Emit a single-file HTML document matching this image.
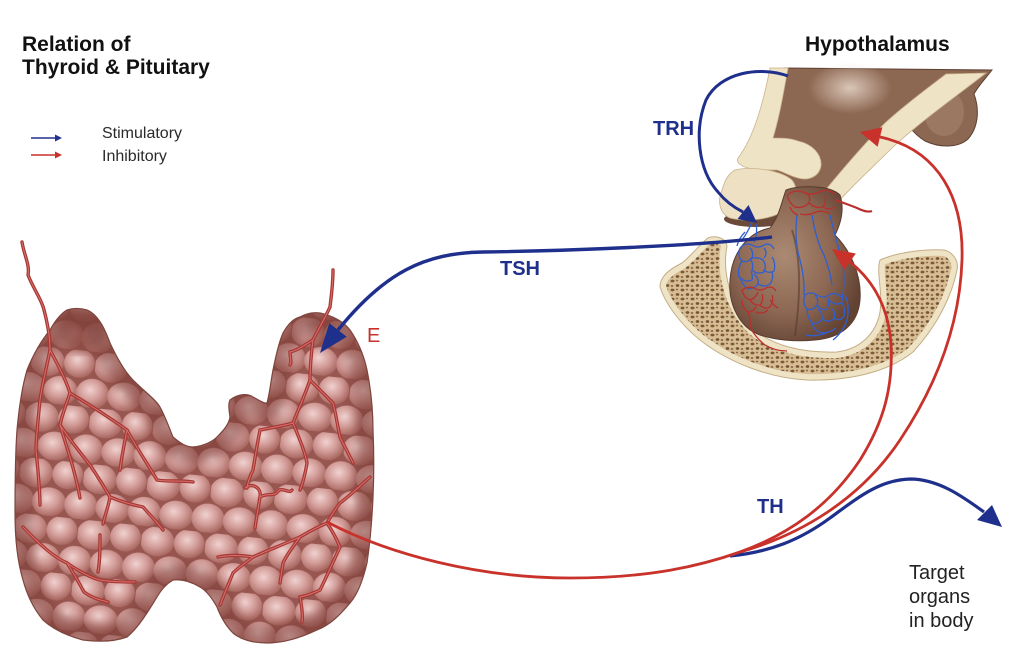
<!DOCTYPE html>
<html><head><meta charset="utf-8">
<style>
html,body{margin:0;padding:0;background:#fff;}
svg{display:block;}
text{font-family:"Liberation Sans",Arial,sans-serif;}
</style></head><body>
<svg width="1024" height="666" viewBox="0 0 1024 666" xmlns="http://www.w3.org/2000/svg">
<defs>
 <radialGradient id="lob" cx="0.42" cy="0.38" r="0.66">
  <stop offset="0" stop-color="#f0d2d0"/>
  <stop offset="0.5" stop-color="#d39d99"/>
  <stop offset="1" stop-color="#a5625b"/>
 </radialGradient>
 <pattern id="lobules" patternUnits="userSpaceOnUse" width="64" height="56" x="5" y="4" patternTransform="rotate(6)">
  <rect width="64" height="56" fill="#985650"/>
  <ellipse cx="16" cy="14" rx="17" ry="15" fill="url(#lob)"/>
  <ellipse cx="48" cy="13" rx="15.5" ry="14.5" fill="url(#lob)"/>
  <ellipse cx="0" cy="42" rx="16.5" ry="15" fill="url(#lob)"/>
  <ellipse cx="32" cy="42" rx="17" ry="14.5" fill="url(#lob)"/>
  <ellipse cx="64" cy="42" rx="16.5" ry="15" fill="url(#lob)"/>
 </pattern>
 <pattern id="spongy" patternUnits="userSpaceOnUse" width="10" height="9">
  <rect width="10" height="9" fill="#d6bd94"/>
  <ellipse cx="2.5" cy="2" rx="2" ry="1.4" fill="#7e5b38"/>
  <ellipse cx="7.5" cy="6.5" rx="1.8" ry="1.4" fill="#745435"/>
  <ellipse cx="7" cy="1.5" rx="1.2" ry="0.9" fill="#8d6a48"/>
  <ellipse cx="2" cy="7" rx="1.3" ry="1" fill="#8a6845"/>
 </pattern>
 <radialGradient id="gland" cx="0.42" cy="0.45" r="0.62">
  <stop offset="0" stop-color="#ab8a73"/>
  <stop offset="0.6" stop-color="#8c6753"/>
  <stop offset="1" stop-color="#624233"/>
 </radialGradient>
 <radialGradient id="hl" cx="0.5" cy="0.5" r="0.5">
  <stop offset="0" stop-color="#e8d6c8" stop-opacity="0.85"/>
  <stop offset="1" stop-color="#e8d6c8" stop-opacity="0"/>
 </radialGradient>
 <filter id="blur5"><feGaussianBlur stdDeviation="5"/></filter>
 <path id="thy" d="M87,310 C100,315 107,335 110,343 C118,360 125,372 133,380 C145,392 156,400 160,407 C166,418 170,430 173,437 C180,443 186,447 193,447 C203,446 212,442 217,437 C224,430 229,424 230,417 C229,410 228,404 230,400 C238,394 247,393 253,397 C259,400 264,404 267,403 C270,392 271,380 273,370 C276,355 279,342 283,333 C288,324 293,319 300,317 C307,313 313,312 320,313 C333,316 343,321 350,330 C359,343 364,356 367,370 C371,390 373,410 373,430 C374,452 374,475 373,497 C372,520 370,543 367,563 C363,580 358,594 350,603 C340,615 330,625 317,630 C300,638 284,643 267,643 C252,643 240,639 233,633 C225,625 220,615 217,607 C212,598 207,591 200,587 C190,581 181,579 173,580 C166,584 161,590 157,597 C148,612 138,628 127,637 C113,642 98,642 83,640 C68,636 54,630 43,620 C33,608 27,595 23,580 C17,560 15,537 15,513 C15,485 15,457 17,430 C19,408 22,387 27,370 C33,355 41,341 50,330 C55,321 60,314 67,310 C73,308 80,308 87,310 Z"/>
 <clipPath id="thyclip"><use href="#thy"/></clipPath>
 <path id="bone" d="M708,238 C716,235 726,238 727,246 C722,272 730,305 752,328 C772,346 803,353 837,352 C860,349 876,334 880,312 C883,292 876,272 880,260 C898,252 925,249 944,250 C953,252 959,261 957,270 C952,295 938,325 913,352 C888,372 850,381 807,380 C768,378 728,362 700,340 C680,324 665,303 660,287 C660,277 668,270 682,263 C692,255 700,244 708,238 Z"/>
 <clipPath id="boneclip"><use href="#bone"/></clipPath>
 <g id="vessels">
  <path d="M22,242 C24,255 30,265 28,275 C34,290 42,300 44,310 C48,325 50,340 50,350 C46,370 42,385 40,400 C38,420 36,440 36,450 C38,470 40,490 40,505"/>
  <path d="M50,350 C58,365 66,380 70,393 C66,405 62,415 60,425 C66,445 75,470 80,498"/>
  <path d="M70,393 C90,405 110,418 127,430 C135,445 148,465 157,480 C168,482 180,480 193,482"/>
  <path d="M127,430 C124,445 122,455 120,470"/>
  <path d="M60,425 C70,440 82,455 90,465 C100,480 106,490 110,497 C122,502 133,505 143,507 C150,515 157,522 163,530"/>
  <path d="M110,497 C108,508 105,515 103,524"/>
  <path d="M23,527 C40,545 55,558 67,563 C80,572 92,578 100,580 C112,582 125,582 135,582"/>
  <path d="M67,563 C75,575 80,585 84,592 C92,598 100,600 108,602"/>
  <path d="M100,535 C100,548 100,560 98,572"/>
  <path d="M333,270 C333,285 331,298 330,307 C324,320 318,330 313,340 C311,355 310,368 310,380 C305,395 298,410 293,423 C282,426 270,428 260,430 C257,445 255,458 253,470 C250,476 248,482 247,488"/>
  <path d="M313,340 C305,345 298,350 290,352 C290,358 292,362 290,365"/>
  <path d="M293,423 C300,440 305,452 307,463 C305,475 302,485 300,490"/>
  <path d="M310,380 C320,390 328,398 333,403 C336,415 338,428 340,437 C345,448 350,456 353,463"/>
  <path d="M370,477 C358,488 348,497 340,503 C333,512 330,518 327,523 C315,528 307,533 300,537 C282,545 266,551 253,557 C245,563 238,568 233,573 C228,585 224,595 220,605"/>
  <path d="M300,537 C292,548 286,556 283,563 C282,570 281,576 280,583"/>
  <path d="M327,523 C333,532 337,540 340,547 C333,562 326,578 320,590 C312,594 305,596 300,597 C302,608 303,616 302,622"/>
  <path d="M253,557 C240,555 228,555 218,557"/>
  <path d="M245,488 C252,482 262,488 260,497 C268,492 274,498 279,490 C285,488 289,494 292,490"/>
  <path d="M260,497 C258,510 256,520 255,528"/>
 </g>
</defs>

<!-- Titles -->
<text x="22" y="51" font-size="21" font-weight="bold" fill="#111">Relation of</text>
<text x="22" y="74" font-size="21" font-weight="bold" fill="#111">Thyroid &amp; Pituitary</text>

<!-- Legend -->
<line x1="31" y1="138" x2="56" y2="138" stroke="#22308f" stroke-width="1.6"/>
<polygon points="55,134.5 62,138 55,141.5" fill="#22308f"/>
<line x1="31" y1="155" x2="56" y2="155" stroke="#c8322b" stroke-width="1.6"/>
<polygon points="55,151.5 62,155 55,158.5" fill="#c8322b"/>
<text x="102" y="138" font-size="16" fill="#2a2a2a">Stimulatory</text>
<text x="102" y="161" font-size="16" fill="#2a2a2a">Inhibitory</text>

<!-- Thyroid -->
<g clip-path="url(#thyclip)">
 <rect x="0" y="300" width="400" height="360" fill="url(#lobules)"/>
 <ellipse cx="82" cy="330" rx="26" ry="22" fill="#8a4a43" opacity="0.75" filter="url(#blur5)"/>
 <ellipse cx="325" cy="330" rx="22" ry="16" fill="#8a4a43" opacity="0.45" filter="url(#blur5)"/>
 <use href="#thy" fill="none" stroke="#7a3a34" stroke-width="34" opacity="0.5" filter="url(#blur5)"/>
</g>
<use href="#thy" fill="none" stroke="#7d453d" stroke-width="1.2"/>
<g fill="none" stroke-linecap="round">
 <use href="#vessels" stroke="#a53835" stroke-width="3.4"/>
 <use href="#vessels" stroke="#d9706b" stroke-width="1"/>
</g>

<!-- Bone (sella turcica) -->
<use href="#bone" fill="url(#spongy)"/>
<g clip-path="url(#boneclip)">
 <use href="#bone" fill="none" stroke="#efe3c6" stroke-width="12"/>
</g>
<use href="#bone" fill="none" stroke="#c4ad86" stroke-width="1"/>

<!-- Hypothalamus brown mass -->
<path d="M784,68 L992,70 C986,78 978,86 974,94 C980,110 978,128 968,139 C958,148 940,148 925,141 C914,134 908,126 904,118 C884,140 862,164 846,188 C840,196 836,204 832,212 L792,212 C782,200 774,186 768,170 C764,150 770,120 776,98 C778,88 781,76 784,68 Z" fill="#8c6752" stroke="#5e4032" stroke-width="1"/>
<ellipse cx="850" cy="88" rx="42" ry="26" fill="url(#hl)"/>
<ellipse cx="944" cy="112" rx="20" ry="24" fill="#a4836d" opacity="0.6"/>
<!-- diagonal beige stripe -->
<path d="M946,74 L986,73 C962,92 922,120 892,148 C872,168 852,186 840,200 L823,193 C841,171 862,146 885,123 C907,103 928,88 946,74 Z" fill="#efe3c6" stroke="#c9b38c" stroke-width="0.8"/>
<!-- left beige stripe + bump -->
<path d="M770,68 L788,68 C784,90 780,115 773,138 C782,138 790,138 798,141 C812,144 822,154 821,166 C819,177 808,181 798,178 C790,176 784,172 777,170 C768,170 758,170 748,168 C740,166 736,162 738,158 C752,140 762,110 770,68 Z" fill="#efe3c6" stroke="#c9b38c" stroke-width="0.8"/>
<!-- lower fold -->
<ellipse cx="756" cy="219" rx="32" ry="8" fill="#6b4a3a"/>
<path d="M735,170 C752,166 780,170 792,180 C800,190 795,205 782,212 C768,220 745,222 730,218 C720,214 717,202 722,190 C725,180 728,174 735,170 Z" fill="#eee1c3" stroke="#c9b38c" stroke-width="0.8"/>

<!-- Pituitary gland -->
<path d="M786,190 C800,185 830,185 840,195 C845,210 840,225 835,235 C850,250 862,275 860,300 C858,325 840,338 815,340 C795,342 775,340 760,335 C740,328 728,305 730,280 C732,250 750,232 770,228 C780,215 782,200 786,190 Z" fill="url(#gland)" stroke="#5a3c2e" stroke-width="1"/>
<path d="M792,230 C802,260 800,300 795,336" fill="none" stroke="#5a3c2e" stroke-width="2" opacity="0.6"/>

<!-- vessel networks -->
<g fill="none" stroke="#2f5fd0" stroke-width="1.3">
 <path d="M740,248 q5,-6 12,-3 q6,4 12,0 q6,-3 10,4 M740,248 q-3,8 2,13 q6,2 10,-3 q2,-6 -2,-10 M750,258 q4,6 2,12 q5,5 12,2 q3,-6 -1,-12 q-4,-3 -11,-2 M764,248 q4,5 0,10 M763,270 q6,4 11,1 q2,-8 -2,-14 M742,261 q-5,8 -3,16 q6,6 13,3 q1,-5 -1,-9 M740,277 q2,8 8,12 q6,0 10,-5 q1,-6 -4,-10 M758,284 q6,4 12,0 q4,-6 2,-12"/>
 <path d="M752,222 q-4,10 -10,18 M756,224 q2,10 -2,18 M745,232 q-6,6 -8,14"/>
 <path d="M797,215 q-3,25 3,45 q5,20 4,35 M812,215 q4,25 12,40 q6,15 8,30 M830,215 q6,25 12,45 q4,20 0,40"/>
 <path d="M805,295 q6,-4 12,0 q6,4 12,0 q6,-4 12,2 M805,295 q-3,8 2,14 q6,2 10,-4 q2,-6 -2,-10 M817,305 q4,6 10,4 q3,-6 1,-11 M829,300 q5,6 12,3 q3,-6 0,-9 M807,309 q0,8 5,14 q6,2 10,-4 q1,-6 -4,-10 M822,319 q6,4 12,0 q2,-6 -2,-10 M812,323 q2,8 10,10 q8,0 14,-5 M834,318 q6,4 10,-2 q2,-8 -3,-14 M845,295 q5,10 2,25 q-4,12 -14,20 M806,335 q10,2 20,-2"/>
</g>
<g fill="none" stroke="#b8302e" stroke-width="1.3">
 <path d="M742,290 q6,-4 12,-2 q6,4 12,0 q6,-3 10,3 M742,290 q2,8 8,10 q6,-2 8,-8 M750,300 q4,6 10,5 q4,-5 2,-11 M760,305 q5,5 10,2 q4,-6 2,-12 M742,300 q0,8 6,12 q6,0 8,-6 M748,312 q3,8 2,15 q5,10 15,18 q10,6 22,6 M756,312 q6,3 12,-2 M770,300 q4,6 8,8"/>
 <path d="M787,195 q8,-6 16,-3 q8,4 16,0 q8,-4 16,2 M787,195 q2,8 8,12 q8,2 14,-4 q2,-6 -2,-10 M809,203 q6,6 14,4 q4,-6 2,-12 M823,207 q6,4 12,0 M790,207 q2,6 8,8 M800,214 q8,2 16,-2 q8,-2 14,2"/>
 <path d="M835,200 q12,4 22,8 q10,5 15,3" stroke-width="2.2"/>
</g>

<!-- TRH arrow -->
<path d="M788,76 C760,66 720,72 706,100 C694,130 698,170 718,192 C726,202 735,208 743,212" fill="none" stroke="#1e2f8c" stroke-width="3"/>
<polygon points="757,223 737.5,219 748.5,205" fill="#1e2f8c"/>

<!-- TSH arrow -->
<path d="M772,237 C700,246 560,251 483,252 C425,253 385,272 338,330" fill="none" stroke="#1e2f8c" stroke-width="3.4"/>
<polygon points="320,353 346.7,336.8 329.3,323.2" fill="#1e2f8c"/>

<!-- TH blue arrow -->
<path d="M730,556 C770,552 800,540 830,518 C860,496 880,480 910,479 C938,479 962,496 984,512" fill="none" stroke="#1e2f8c" stroke-width="3.2"/>
<polygon points="1002,527 977,520 992,505" fill="#1e2f8c"/>

<!-- red feedback arrows -->
<path d="M327,522 C390,555 480,578 570,578 C650,578 700,566 740,552 C790,534 830,505 860,460 C885,420 893,385 891,345 C889,310 875,282 850,262" fill="none" stroke="#c8322b" stroke-width="2.8"/>
<polygon points="832,249 855.8,253.5 844.2,269.9" fill="#c8322b"/>
<path d="M740,552 C800,535 860,500 900,440 C940,380 960,320 962,260 C964,200 940,150 880,137" fill="none" stroke="#c8322b" stroke-width="2.8"/>
<polygon points="860,132 882.4,127.3 877.6,146.7" fill="#c8322b"/>

<!-- labels -->
<text x="805" y="51" font-size="21" font-weight="bold" fill="#111">Hypothalamus</text>
<text x="653" y="135" font-size="20" font-weight="bold" fill="#1e2f8c">TRH</text>
<text x="500" y="275" font-size="20" font-weight="bold" fill="#1e2f8c">TSH</text>
<text x="367" y="342" font-size="20" fill="#c8322b">E</text>
<text x="757" y="513" font-size="20" font-weight="bold" fill="#1e2f8c">TH</text>
<text x="909" y="579" font-size="20" fill="#222">Target</text>
<text x="909" y="603" font-size="20" fill="#222">organs</text>
<text x="909" y="627" font-size="20" fill="#222">in body</text>
</svg>
</body></html>
